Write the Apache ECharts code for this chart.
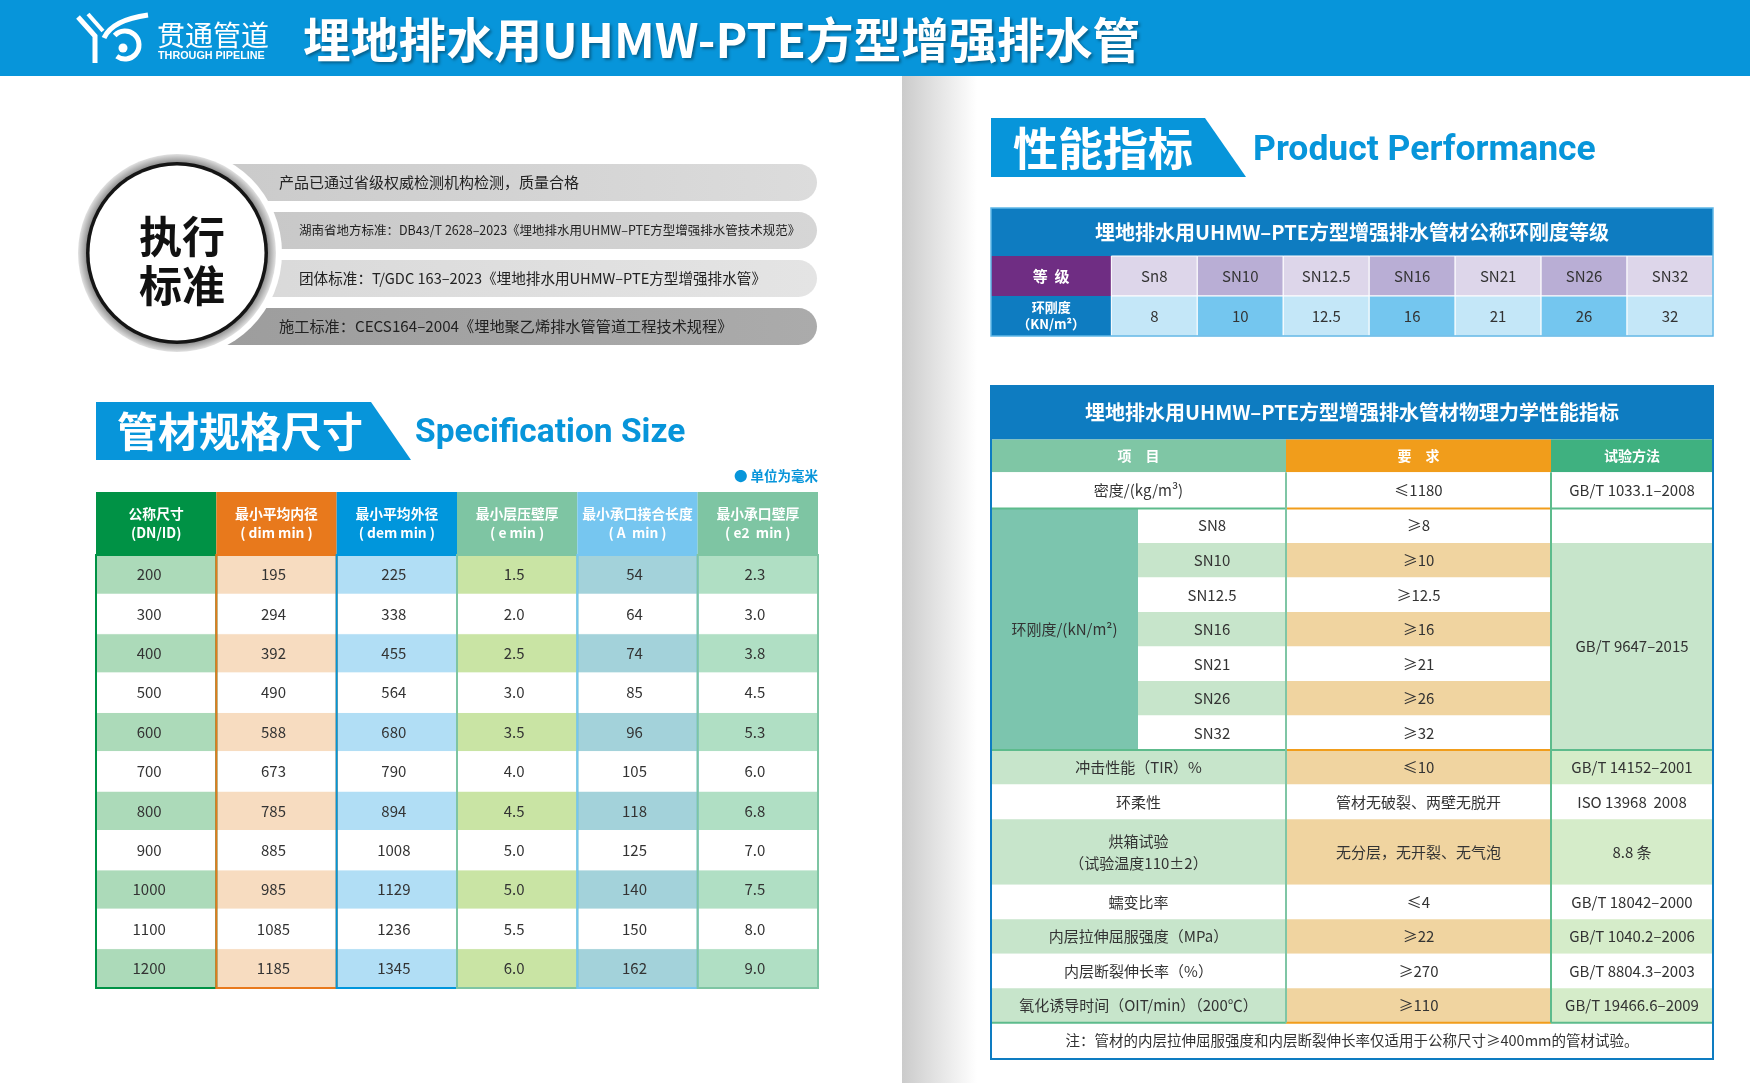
<!DOCTYPE html>
<html>
<head>
<meta charset="utf-8">
<title>埋地排水用UHMW-PTE方型增强排水管</title>
<script src="https://cdn.jsdelivr.net/npm/echarts@6/dist/echarts.min.js"></script>
<style>
  html, body { margin: 0; padding: 0; background: #fff; }
  #chart { width: 1750px; height: 1083px; }
</style>
</head>
<body>
<div id="chart"></div>
<script>
/* ---------------- 数据：管材规格尺寸 ---------------- */
const specHeaders = ['公称尺寸\n(DN/ID)', '最小平均内径\n( dim min )', '最小平均外径\n( dem min )',
  '最小层压壁厚\n( e min )', '最小承口接合长度\n( A  min )', '最小承口壁厚\n( e2  min )'];
const nominalSize = [200, 300, 400, 500, 600, 700, 800, 900, 1000, 1100, 1200];
const minInnerDiameter = [195, 294, 392, 490, 588, 673, 785, 885, 985, 1085, 1185];
const minOuterDiameter = [225, 338, 455, 564, 680, 790, 894, 1008, 1129, 1236, 1345];
const minWallThickness = [1.5, 2.0, 2.5, 3.0, 3.5, 4.0, 4.5, 5.0, 5.0, 5.5, 6.0];
const minSocketLength = [54, 64, 74, 85, 96, 105, 118, 125, 140, 150, 162];
const minSocketWall = [2.3, 3.0, 3.8, 4.5, 5.3, 6.0, 6.8, 7.0, 7.5, 8.0, 9.0];

/* ---------------- 数据：公称环刚度等级 ---------------- */
const gradeNames = ['Sn8', 'SN10', 'SN12.5', 'SN16', 'SN21', 'SN26', 'SN32'];
const gradeStiffness = [8, 10, 12.5, 16, 21, 26, 32];

/* ---------------- 数据：物理力学性能指标 ---------------- */
const stiffnessClasses = ['SN8', 'SN10', 'SN12.5', 'SN16', 'SN21', 'SN26', 'SN32'];
const stiffnessMin = [8, 10, 12.5, 16, 21, 26, 32];
const perfItems = ['冲击性能（TIR）%', '环柔性', '烘箱试验\n（试验温度110±2）', '蠕变比率',
  '内层拉伸屈服强度（MPa）', '内层断裂伸长率（%）', '氧化诱导时间（OIT/min）（200℃）'];
const perfRequirements = ['≤10', '管材无破裂、两壁无脱开', '无分层，无开裂、无气泡', '≤4', '≥22', '≥270', '≥110'];
const perfMethods = ['GB/T 14152–2001', 'ISO 13968  2008', '8.8 条', 'GB/T 18042–2000',
  'GB/T 1040.2–2006', 'GB/T 8804.3–2003', 'GB/T 19466.6–2009'];

/* ---------------- 数据：执行标准 ---------------- */
const standards = [
  '产品已通过省级权威检测机构检测，质量合格',
  '湖南省地方标准：DB43/T 2628–2023《埋地排水用UHMW–PTE方型增强排水管技术规范》',
  '团体标准：T/GDC 163–2023《埋地排水用UHMW–PTE方型增强排水管》',
  '施工标准：CECS164–2004《埋地聚乙烯排水管管道工程技术规程》'
];

/* ---------------- 样式 ---------------- */
const CJK = '"Noto Sans CJK SC", sans-serif';
const NARROW = '"Liberation Sans Narrow", "Noto Sans CJK SC", sans-serif';
const BLUE = '#0795da';
const DEEP_BLUE = '#0e7cc1';
const TEXT = '#333';

const specHeadColors = ['#009245', '#e8791c', '#0096dc', '#7ec5a3', '#76c6f0', '#7ec5a3'];
const specBodyColors = ['#acdab9', '#f7dcc0', '#b1def5', '#c9e4a4', '#a3d2da', '#b0dfc4'];

/* ---------------- 单元格渲染 ---------------- */
function cellRenderer(cells) {
  return function (params, api) {
    const c = cells[params.dataIndex];
    const p0 = api.coord([api.value(0), api.value(1)]);
    const p1 = api.coord([api.value(2), api.value(3)]);
    const x = p0[0], y = p0[1], w = p1[0] - p0[0], h = p1[1] - p0[1];
    const children = [];
    if (c.kind === 'line') {
      children.push({ type: 'line', shape: { x1: x, y1: y, x2: p1[0], y2: p1[1] },
        style: { stroke: c.stroke, lineWidth: c.lw } });
    } else {
      children.push({ type: 'rect', shape: { x, y, width: w, height: h },
        style: { fill: c.fill || 'none', stroke: c.stroke || null, lineWidth: c.lw || 0 } });
    }
    if (c.text !== undefined && c.text !== '') {
      children.push({ type: 'text', x: x + w / 2 + (c.dx || 0), y: y + h / 2,
        style: { text: String(c.text), fill: c.color || TEXT, font: c.font,
          align: 'center', verticalAlign: 'middle', textAlign: 'center', textVerticalAlign: 'middle',
          lineHeight: c.lineHeight || 20 } });
    }
    return { type: 'group', children };
  };
}

function cellSeries(gridIndex, cells, z) {
  return {
    type: 'custom',
    xAxisIndex: gridIndex,
    yAxisIndex: gridIndex,
    z: z,
    silent: true,
    clip: false,
    encode: { x: [0, 2], y: [1, 3] },
    data: cells.map(c => [c.x0, c.y0, c.x1, c.y1]),
    renderItem: cellRenderer(cells)
  };
}

/* ---------------- 表1：管材规格尺寸 ---------------- */
const specColumns = [
  nominalSize.map(String),
  minInnerDiameter.map(String),
  minOuterDiameter.map(String),
  minWallThickness.map(v => v.toFixed(1)),
  minSocketLength.map(String),
  minSocketWall.map(v => v.toFixed(1))
];
const SPEC_HEAD = 1.6;
const specCells = [];
const specFrames = [];
specHeaders.forEach((h, i) => {
  specCells.push({ x0: i, y0: 0, x1: i + 1, y1: SPEC_HEAD, fill: specHeadColors[i], text: h,
    color: '#fff', font: 'bold 13.8px ' + CJK, lineHeight: 19 });
});
specColumns.forEach((col, i) => {
  col.forEach((v, r) => {
    specCells.push({ x0: i, y0: SPEC_HEAD + r, x1: i + 1, y1: SPEC_HEAD + r + 1,
      fill: r % 2 === 0 ? specBodyColors[i] : '#fff', stroke: '#fff', lw: 1,
      text: v, font: '15px ' + NARROW, dx: i === 0 ? -7 : -3 });
  });
  specFrames.push({ x0: i, y0: SPEC_HEAD, x1: i + 1, y1: SPEC_HEAD + col.length,
    stroke: specHeadColors[i], lw: 2 });
});

/* ---------------- 表2：公称环刚度等级 ---------------- */
const LABEL_W = 1.4;
const gradeCells = [
  { x0: 0, y0: 0, x1: LABEL_W + gradeNames.length, y1: 1.2, fill: DEEP_BLUE,
    text: '埋地排水用UHMW–PTE方型增强排水管材公称环刚度等级', color: '#fff', font: 'bold 20px ' + CJK },
  { x0: 0, y0: 1.2, x1: LABEL_W, y1: 2.2, fill: '#6f2d83', text: '等  级', color: '#fff', font: 'bold 15px ' + CJK },
  { x0: 0, y0: 2.2, x1: LABEL_W, y1: 3.2, fill: DEEP_BLUE, text: '环刚度\n（KN/m²）', color: '#fff',
    font: 'bold 13px ' + CJK, lineHeight: 17 }
];
gradeNames.forEach((g, i) => {
  gradeCells.push({ x0: LABEL_W + i, y0: 1.2, x1: LABEL_W + i + 1, y1: 2.2,
    fill: i % 2 ? '#b9aed5' : '#ddd6ea', stroke: '#fff', lw: 1, text: g, font: '15px ' + NARROW });
  gradeCells.push({ x0: LABEL_W + i, y0: 2.2, x1: LABEL_W + i + 1, y1: 3.2,
    fill: i % 2 ? '#74c6ef' : '#c4e7f8', stroke: '#fff', lw: 1, text: gradeStiffness[i], font: '15px ' + NARROW });
});
const gradeFrames = [
  { x0: 0, y0: 0, x1: LABEL_W + gradeNames.length, y1: 3.2, stroke: '#5fb7e6', lw: 1.5 }
];

/* ---------------- 表3：物理力学性能指标 ---------------- */
const COLX = [0, 147, 295, 560, 722];
const T_TITLE = 1.55, T_HEAD = 2.5;
const ROW_DENSITY = 1.05, ROW_OVEN = 1.9, ROW_NOTE = 1.05;
const C1 = '#c7e5cb', C2 = '#f0d4a0', C3 = '#d5ecc9';
const GREEN_LINE = '#5dbb8c', ORANGE_LINE = '#f19d1b';
const perfCells = [];
const perfLines = [];
const bodyFont = '15px ' + NARROW;

perfCells.push({ x0: 0, y0: 0, x1: 722, y1: T_TITLE, fill: DEEP_BLUE,
  text: '埋地排水用UHMW–PTE方型增强排水管材物理力学性能指标', color: '#fff', font: 'bold 20px ' + CJK });
[['项　目', '#7fc6a5'], ['要　求', '#f19d1b'], ['试验方法', '#3fb180']].forEach((h, i) => {
  const x0 = i === 0 ? COLX[0] : COLX[i + 1];
  const x1 = COLX[i + 2];
  perfCells.push({ x0, y0: T_TITLE, x1, y1: T_HEAD, fill: h[1], text: h[0], color: '#fff', font: 'bold 14px ' + CJK });
});

let y = T_HEAD;
let rowIdx = 0;
function striped(i) { return i > 0 && i % 2 === 0; }

// 密度
perfCells.push({ x0: 0, y0: y, x1: COLX[2], y1: y + ROW_DENSITY, fill: '#fff', text: '密度/(kg/m³)', font: bodyFont });
perfCells.push({ x0: COLX[2], y0: y, x1: COLX[3], y1: y + ROW_DENSITY, fill: '#fff', text: '≤1180', font: bodyFont });
perfCells.push({ x0: COLX[3], y0: y, x1: COLX[4], y1: y + ROW_DENSITY, fill: '#fff', text: 'GB/T 1033.1–2008', font: bodyFont });
y += ROW_DENSITY; rowIdx++;

// 环刚度
const snTop = y;
stiffnessClasses.forEach((s, k) => {
  const on = striped(rowIdx);
  perfCells.push({ x0: COLX[1], y0: y, x1: COLX[2], y1: y + 1, fill: on ? C1 : '#fff', text: s, font: bodyFont });
  perfCells.push({ x0: COLX[2], y0: y, x1: COLX[3], y1: y + 1, fill: on ? C2 : '#fff', text: '≥' + stiffnessMin[k], font: bodyFont });
  if (k === 0) perfCells.push({ x0: COLX[3], y0: y, x1: COLX[4], y1: y + 1, fill: '#fff' });
  y += 1; rowIdx++;
});
perfCells.push({ x0: 0, y0: snTop, x1: COLX[1], y1: y, fill: '#7cc5ae', text: '环刚度/(kN/m²)', font: bodyFont });
perfCells.push({ x0: COLX[3], y0: snTop + 1, x1: COLX[4], y1: y, fill: C1, text: 'GB/T 9647–2015', font: bodyFont });
const snBottom = y;

// 其它指标
perfItems.forEach((item, k) => {
  const on = striped(rowIdx);
  const h = item.indexOf('\n') >= 0 ? ROW_OVEN : 1;
  perfCells.push({ x0: 0, y0: y, x1: COLX[2], y1: y + h, fill: on ? C1 : '#fff', text: item, font: bodyFont, lineHeight: 22 });
  perfCells.push({ x0: COLX[2], y0: y, x1: COLX[3], y1: y + h, fill: on ? C2 : '#fff', text: perfRequirements[k], font: bodyFont });
  perfCells.push({ x0: COLX[3], y0: y, x1: COLX[4], y1: y + h, fill: on ? C3 : '#fff', text: perfMethods[k], font: bodyFont });
  y += h; rowIdx++;
});
const bodyBottom = y;
perfCells.push({ x0: 0, y0: y, x1: 722, y1: y + ROW_NOTE, fill: '#fff',
  text: '注：管材的内层拉伸屈服强度和内层断裂伸长率仅适用于公称尺寸≥400mm的管材试验。', font: '14.5px ' + NARROW });
const tableBottom = y + ROW_NOTE;

// 分隔线
[T_HEAD + ROW_DENSITY, snBottom, bodyBottom].forEach(yy => {
  perfLines.push({ kind: 'line', x0: 0, y0: yy, x1: COLX[2], y1: yy, stroke: GREEN_LINE, lw: 2 });
  perfLines.push({ kind: 'line', x0: COLX[3], y0: yy, x1: COLX[4], y1: yy, stroke: GREEN_LINE, lw: 2 });
  perfLines.push({ kind: 'line', x0: COLX[2], y0: yy, x1: COLX[3], y1: yy, stroke: ORANGE_LINE, lw: 2 });
});
perfLines.push({ kind: 'line', x0: COLX[2], y0: T_HEAD, x1: COLX[2], y1: bodyBottom, stroke: '#7fc6a5', lw: 2 });
perfLines.push({ kind: 'line', x0: COLX[3], y0: T_HEAD, x1: COLX[3], y1: bodyBottom, stroke: GREEN_LINE, lw: 2 });
perfLines.push({ x0: 0, y0: 0, x1: 722, y1: tableBottom, stroke: DEEP_BLUE, lw: 2 });

/* ---------------- 装饰图形 ---------------- */
const CX = 177, CY = 253;
const pillTop = [164, 212, 260, 308];
const pillFill = [
  ['#c9c9c9', '#dcdcdc'], ['#c6c6c6', '#d6d6d6'], ['#d8d8d8', '#e4e4e4'], ['#9c9c9c', '#ababab']
];
const pillTextX = [279, 299, 299, 279];
const pillFont = ['15px ', '12.5px ', '14.6px ', '15.2px '];

const graphics = [
  // 页眉
  { type: 'rect', shape: { x: 0, y: 0, width: 1750, height: 76 }, style: { fill: BLUE } },
  // 书脊阴影
  { type: 'rect', shape: { x: 902, y: 76, width: 75, height: 1007 },
    style: { fill: { type: 'linear', x: 0, y: 0, x2: 1, y2: 0,
      colorStops: [{ offset: 0, color: '#cbcbcb' }, { offset: 1, color: '#ffffff' }] } } },
  // logo
  { type: 'polyline', shape: { points: [[78, 17], [95, 36], [95, 63]] }, style: { stroke: '#fff', lineWidth: 5, fill: null } },
  { type: 'line', shape: { x1: 88, y1: 14, x2: 103, y2: 31 }, style: { stroke: '#fff', lineWidth: 4 } },
  { type: 'arc', shape: { cx: 125, cy: 45, r: 14, startAngle: -2.4, endAngle: 2.2 }, style: { stroke: '#fff', lineWidth: 5, fill: null } },
  { type: 'bezierCurve', shape: { x1: 104, y1: 38, cpx1: 112, cpy1: 20, x2: 148, y2: 15 }, style: { stroke: '#fff', lineWidth: 5, fill: null } },
  { type: 'circle', shape: { cx: 123, cy: 48, r: 4.5 }, style: { fill: '#fff' } },
  { type: 'text', x: 157, y: 35, style: { text: '贯通管道', fill: '#fff', font: '28px ' + CJK,
    align: 'left', verticalAlign: 'middle', textAlign: 'left', textVerticalAlign: 'middle' } },
  { type: 'text', x: 158, y: 56, style: { text: 'THROUGH PIPELINE', fill: '#fff', font: 'bold 10.8px "Liberation Sans", sans-serif',
    align: 'left', verticalAlign: 'middle', textAlign: 'left', textVerticalAlign: 'middle' } },
  // 标题
  { type: 'text', x: 303, y: 40, style: { text: '埋地排水用UHMW-PTE方型增强排水管', fill: '#fff', font: 'bold 47.8px ' + CJK,
    align: 'left', verticalAlign: 'middle', textAlign: 'left', textVerticalAlign: 'middle',
    textShadowColor: 'rgba(0,0,0,0.35)', textShadowBlur: 3, textShadowOffsetX: 2, textShadowOffsetY: 2 } }
];

// 执行标准：条带
standards.forEach((s, i) => {
  graphics.push({ type: 'rect', shape: { x: CX, y: pillTop[i], width: 817 - CX, height: 37, r: [0, 18.5, 18.5, 0] },
    style: { fill: { type: 'linear', x: 0, y: 0, x2: 1, y2: 0,
      colorStops: [{ offset: 0, color: pillFill[i][0] }, { offset: 1, color: pillFill[i][1] }] } } });
  graphics.push({ type: 'text', x: pillTextX[i], y: pillTop[i] + 18.5,
    style: { text: s, fill: '#222', font: pillFont[i] + CJK,
      align: 'left', verticalAlign: 'middle', textAlign: 'left', textVerticalAlign: 'middle' } });
});
// 执行标准：圆
graphics.push(
  { type: 'circle', shape: { cx: CX, cy: CY, r: 105 }, style: { fill: '#fff' } },
  { type: 'circle', shape: { cx: CX, cy: CY, r: 99 },
    style: { fill: { type: 'radial', x: 0.5, y: 0.5, r: 0.5,
      colorStops: [{ offset: 0.88, color: '#6a6a6a' }, { offset: 0.94, color: '#a9a9a9' }, { offset: 1, color: '#e2e2e2' }] } } },
  { type: 'circle', shape: { cx: CX, cy: CY, r: 91 }, style: { fill: '#151515' } },
  { type: 'circle', shape: { cx: CX, cy: CY, r: 87.5 }, style: { fill: '#fff' } },
  { type: 'text', x: CX + 5, y: CY + 8, style: { text: '执行\n标准', fill: '#111', font: 'bold 43px ' + CJK, lineHeight: 49,
    align: 'center', verticalAlign: 'middle', textAlign: 'center', textVerticalAlign: 'middle' } }
);
// 管材规格尺寸 标题
graphics.push(
  { type: 'polygon', shape: { points: [[96, 402], [371, 402], [411, 460], [96, 460]] }, style: { fill: BLUE } },
  { type: 'text', x: 117, y: 431, style: { text: '管材规格尺寸', fill: '#fff', font: 'bold 41px ' + CJK,
    align: 'left', verticalAlign: 'middle', textAlign: 'left', textVerticalAlign: 'middle' } },
  { type: 'text', x: 415, y: 434, style: { text: 'Specification Size', fill: BLUE, font: 'bold 33.5px Roboto, sans-serif',
    align: 'left', verticalAlign: 'middle', textAlign: 'left', textVerticalAlign: 'middle' } },
  { type: 'text', x: 818, y: 476, style: { text: '● 单位为毫米', fill: BLUE, font: 'bold 13.5px ' + CJK,
    align: 'right', verticalAlign: 'middle', textAlign: 'right', textVerticalAlign: 'middle' } }
);
// 性能指标 标题
graphics.push(
  { type: 'polygon', shape: { points: [[991, 118], [1205, 118], [1246, 177], [991, 177]] }, style: { fill: BLUE } },
  { type: 'text', x: 1013, y: 149, style: { text: '性能指标', fill: '#fff', font: 'bold 45px ' + CJK,
    align: 'left', verticalAlign: 'middle', textAlign: 'left', textVerticalAlign: 'middle' } },
  { type: 'text', x: 1253, y: 151, style: { text: 'Product Performance', fill: BLUE, font: 'bold 35.5px Roboto, sans-serif',
    align: 'left', verticalAlign: 'middle', textAlign: 'left', textVerticalAlign: 'middle' } }
);

/* ---------------- 初始化 ---------------- */
const chart = echarts.init(document.getElementById('chart'), null, { renderer: 'canvas' });

const hiddenAxis = { show: false, splitLine: { show: false } };
chart.setOption({
  animation: false,
  backgroundColor: '#fff',
  grid: [
    { left: 96, top: 492, width: 722, height: 496 },
    { left: 991, top: 208, width: 722, height: 128 },
    { left: 991, top: 386, width: 722, height: 673 }
  ],
  xAxis: [
    Object.assign({ type: 'value', gridIndex: 0, min: 0, max: specHeaders.length }, hiddenAxis),
    Object.assign({ type: 'value', gridIndex: 1, min: 0, max: LABEL_W + gradeNames.length }, hiddenAxis),
    Object.assign({ type: 'value', gridIndex: 2, min: 0, max: 722 }, hiddenAxis)
  ],
  yAxis: [
    Object.assign({ type: 'value', gridIndex: 0, min: 0, max: SPEC_HEAD + nominalSize.length, inverse: true }, hiddenAxis),
    Object.assign({ type: 'value', gridIndex: 1, min: 0, max: 3.2, inverse: true }, hiddenAxis),
    Object.assign({ type: 'value', gridIndex: 2, min: 0, max: tableBottom, inverse: true }, hiddenAxis)
  ],
  graphic: { elements: graphics },
  series: [
    cellSeries(0, specCells, 2),
    cellSeries(0, specFrames, 3),
    cellSeries(1, gradeCells, 2),
    cellSeries(1, gradeFrames, 3),
    cellSeries(2, perfCells, 2),
    cellSeries(2, perfLines, 3)
  ]
});
</script>
</body>
</html>
